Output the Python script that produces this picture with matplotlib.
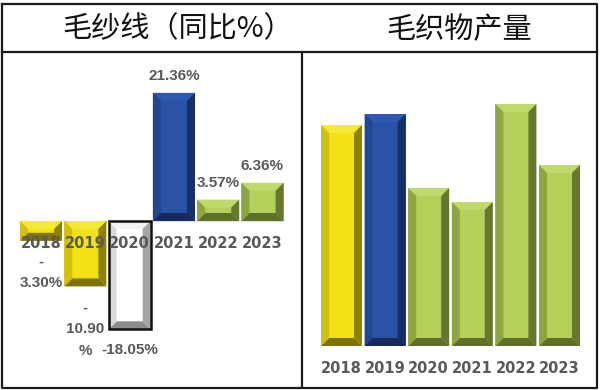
import matplotlib
matplotlib.use("Agg")
import matplotlib.pyplot as plt
from matplotlib.patches import Polygon
import numpy as np

years = ["2018", "2019", "2020", "2021", "2022", "2023"]

# 毛纱线 year-on-year change (%)
yarn_yoy = [-3.30, -10.90, -18.05, 21.36, 3.57, 6.36]
yarn_labels = ["-\n3.30%", "-\n10.90\n%", "-18.05%", "21.36%", "3.57%", "6.36%"]
yarn_colors = ["yellow", "yellow", "white", "blue", "green", "green"]

# 毛织物产量 (no axis shown, relative heights)
fabric_output = [221, 232, 158, 144, 242, 181]
fabric_colors = ["yellow", "blue", "green", "green", "green", "green"]

# face, left, right, top, bottom
palette = {
    "yellow": ["#F2E114", "#D2C00F", "#8E8206", "#F6E838", "#7D7205"],
    "blue": ["#2A52A6", "#234690", "#172F66", "#2F5AB2", "#162A5E"],
    "green": ["#B2D05A", "#8DA63F", "#667830", "#BFDA6A", "#5F7029"],
    "white": ["#FFFFFF", "#D9D9D9", "#A5A5A5", "#F2F2F2", "#8C8C8C"],
}

W, H = 600, 390
fig = plt.figure(figsize=(W / 100, H / 100), dpi=100)
fig.patch.set_facecolor("white")

# frame / table lines in pixel coords
bg = fig.add_axes([0, 0, 1, 1])
bg.set_xlim(0, W)
bg.set_ylim(H, 0)
bg.axis("off")
lc = "#1a1a1a"
bg.plot([1.5, 596.5, 596.5, 1.5, 1.5], [4, 4, 388, 388, 4], color=lc, lw=1.6)
bg.plot([1.5, 596.5], [52, 52], color=lc, lw=1.6)
bg.plot([302, 302], [52, 388], color=lc, lw=1.6)

title_font = ["Noto Sans CJK SC", "DejaVu Sans"]
bg.text(178, 29, "毛纱线（同比%）", fontsize=21, family=title_font,
        ha="center", va="center", color="#111111")
bg.text(459, 30, "毛织物产量", fontsize=21, family=title_font,
        ha="center", va="center", color="#111111")

num_font = ["Liberation Sans", "DejaVu Sans"]
year_font = ["DejaVu Sans"]
text_gray = "#595959"


def bevel_bars(ax, values, colors, width, bev_px=8, outline=None):
    x = np.arange(len(values))
    bars = ax.bar(x, values, width=width, color=[palette[c][0] for c in colors],
                  edgecolor="none", zorder=2)
    pos = ax.get_position()
    x0, x1 = ax.get_xlim()
    y0, y1 = ax.get_ylim()
    px_x = pos.width * W / (x1 - x0)
    px_y = pos.height * H / (y1 - y0)
    for rect, c in zip(bars, colors):
        face, left, right, top, bottom = palette[c]
        l = rect.get_x()
        r = l + rect.get_width()
        b = min(rect.get_y(), rect.get_y() + rect.get_height())
        t = max(rect.get_y(), rect.get_y() + rect.get_height())
        bx = min(bev_px / px_x, (r - l) / 2)
        by = min(bev_px / px_y, (t - b) / 2)
        polys = [
            ([(l, t), (r, t), (r - bx, t - by), (l + bx, t - by)], top),
            ([(l, b), (r, b), (r - bx, b + by), (l + bx, b + by)], bottom),
            ([(l, b), (l + bx, b + by), (l + bx, t - by), (l, t)], left),
            ([(r, b), (r - bx, b + by), (r - bx, t - by), (r, t)], right),
        ]
        for pts, col in polys:
            ax.add_patch(Polygon(pts, closed=True, facecolor=col,
                                 edgecolor="none", zorder=3))
        if outline is not None and c == outline:
            ax.add_patch(plt.Rectangle((l, b), r - l, t - b, fill=False,
                                       edgecolor="#111111", lw=1.8, zorder=4))
    return bars


# left chart: yarn yoy
axl = fig.add_axes([18.85 / W, (H - 371) / H, 265.8 / W, 300 / H])
axl.set_xlim(-0.5, 5.5)
axl.set_ylim(-25, 25)
axl.axis("off")
axl.axhline(0, color="#E3E3E3", lw=1, zorder=1)
bevel_bars(axl, yarn_yoy, yarn_colors, 0.95, outline="white")
for i, (v, lab) in enumerate(zip(yarn_yoy, yarn_labels)):
    if v >= 0:
        axl.annotate(lab, (i, v), xytext=(0, 7), textcoords="offset points",
                     ha="center", va="bottom", fontsize=11, fontweight="bold",
                     family=num_font, color=text_gray, zorder=6)
    else:
        axl.annotate(lab, (i, v), xytext=(0, -10), textcoords="offset points",
                     ha="center", va="top", fontsize=11, fontweight="bold",
                     family=num_font, color=text_gray, linespacing=1.7,
                     zorder=6)
    axl.annotate(years[i], (i, 0), xytext=(0, -16), textcoords="offset points",
                 ha="center", va="center", fontsize=10.5, fontweight="bold",
                 family=year_font, color=text_gray, zorder=6)

# right chart: fabric output
axr = fig.add_axes([319.7 / W, (H - 346) / H, 261.6 / W, 300 / H])
axr.set_xlim(-0.5, 5.5)
axr.set_ylim(0, 300)
axr.axis("off")
axr.axhline(0, color="#E3E3E3", lw=1, zorder=1)
bevel_bars(axr, fabric_output, fabric_colors, 0.94)
for i, y in enumerate(years):
    axr.annotate(y, (i, 0), xytext=(0, -16.5), textcoords="offset points",
                 ha="center", va="center", fontsize=10.5, fontweight="bold",
                 family=year_font, color=text_gray)

fig.savefig("out.png", dpi=100, facecolor="white")
